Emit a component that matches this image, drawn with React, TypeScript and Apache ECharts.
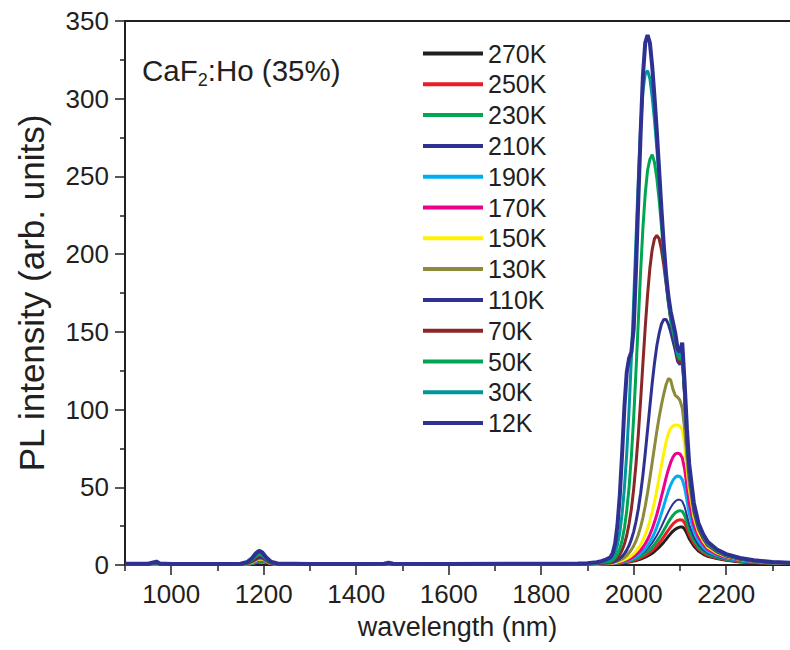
import React, { useEffect, useRef } from "react";
import * as echarts from "echarts";

// ---------- data ----------
const wavelengthsLow = [900, 950, 968, 975, 1000, 1100, 1150, 1165, 1175, 1183, 1190, 1197, 1205, 1215, 1230, 1300, 1400, 1460, 1470, 1480, 1600, 1800, 1880];
const wavelengthsHigh = [1900, 1920, 1930, 1940, 1950, 1955, 1960, 1965, 1970, 1975, 1980, 1985, 1990, 1995, 2000, 2005, 2010, 2015, 2020, 2025, 2030, 2035, 2040, 2045, 2050, 2055, 2060, 2065, 2070, 2075, 2080, 2085, 2090, 2095, 2100, 2105, 2110, 2115, 2120, 2130, 2140, 2150, 2160, 2180, 2200, 2230, 2260, 2300, 2338];

const seriesNames = ["270K", "250K", "230K", "210K", "190K", "170K", "150K", "130K", "110K", "70K", "50K", "30K", "12K"];
const seriesColors = ["#231f20", "#ed1c24", "#00a651", "#2e3192", "#00aeef", "#ec008c", "#fff200", "#8c8b3c", "#2e3192", "#8b2626", "#00a651", "#00969b", "#2e3192"];
const seriesWidths = [3, 3, 3, 2, 3, 3, 3, 3, 3, 3, 3, 3, 4];

const low270 = [0.3, 0.3, 0.6, 0.4, 0.3, 0.3, 0.3, 0.4, 0.8, 1.3, 1.9, 2.1, 1.7, 0.8, 0.4, 0.3, 0.3, 0.4, 0.5, 0.4, 0.3, 0.3, 0.3];
const low250 = [0.3, 0.3, 0.7, 0.4, 0.3, 0.3, 0.3, 0.5, 0.9, 1.5, 2.1, 2.3, 1.8, 0.8, 0.4, 0.3, 0.3, 0.4, 0.6, 0.4, 0.3, 0.3, 0.3];
const low230 = [0.3, 0.3, 0.7, 0.4, 0.3, 0.3, 0.3, 0.5, 1.0, 1.7, 2.3, 2.5, 1.9, 0.9, 0.4, 0.3, 0.3, 0.4, 0.6, 0.4, 0.3, 0.3, 0.3];
const low210 = [0.4, 0.4, 0.8, 0.4, 0.3, 0.3, 0.4, 0.6, 1.1, 1.9, 2.6, 2.7, 2.0, 0.9, 0.4, 0.3, 0.3, 0.4, 0.6, 0.4, 0.3, 0.3, 0.3];
const low190 = [0.4, 0.4, 0.8, 0.5, 0.3, 0.3, 0.4, 0.6, 1.3, 2.2, 3.0, 3.0, 2.2, 1.0, 0.5, 0.3, 0.3, 0.4, 0.7, 0.4, 0.3, 0.3, 0.4];
const low170 = [0.4, 0.4, 0.9, 0.5, 0.3, 0.3, 0.4, 0.7, 1.5, 2.5, 3.4, 3.3, 2.4, 1.0, 0.5, 0.3, 0.3, 0.4, 0.7, 0.4, 0.3, 0.3, 0.4];
const low150 = [0.5, 0.5, 1.0, 0.5, 0.4, 0.4, 0.5, 0.8, 1.7, 2.9, 3.9, 3.7, 2.6, 1.1, 0.5, 0.4, 0.4, 0.5, 0.8, 0.5, 0.4, 0.4, 0.5];
const low130 = [0.5, 0.5, 1.1, 0.6, 0.4, 0.4, 0.5, 0.9, 2.0, 3.3, 4.4, 4.1, 2.8, 1.2, 0.6, 0.4, 0.4, 0.5, 0.8, 0.5, 0.4, 0.4, 0.5];
const low110 = [0.5, 0.5, 1.2, 0.6, 0.4, 0.4, 0.5, 1.0, 2.3, 3.8, 5.0, 4.6, 3.1, 1.3, 0.6, 0.4, 0.4, 0.5, 0.9, 0.5, 0.4, 0.5, 0.6];
const low70 = [0.6, 0.6, 1.4, 0.7, 0.5, 0.5, 0.6, 1.2, 2.8, 4.6, 6.0, 5.4, 3.5, 1.5, 0.7, 0.5, 0.5, 0.6, 1.0, 0.6, 0.5, 0.6, 0.7];
const low50 = [0.6, 0.6, 1.6, 0.8, 0.5, 0.5, 0.6, 1.4, 3.4, 5.6, 7.0, 6.2, 3.9, 1.7, 0.8, 0.5, 0.5, 0.6, 1.1, 0.6, 0.5, 0.6, 0.8];
const low30 = [0.7, 0.7, 1.8, 0.9, 0.6, 0.5, 0.7, 1.7, 4.0, 6.6, 8.2, 7.0, 4.4, 1.9, 0.9, 0.5, 0.5, 0.7, 1.2, 0.7, 0.5, 0.7, 0.9];
const low12 = [0.8, 0.8, 2.2, 1.0, 0.7, 0.6, 0.8, 2.0, 4.5, 7.5, 9.2, 8.0, 5.0, 2.2, 1.0, 0.6, 0.6, 0.8, 1.4, 0.8, 0.6, 0.8, 1.0];

const high270 = [0.3, 0.4, 0.4, 0.5, 0.7, 0.8, 0.9, 1.0, 1.1, 1.3, 1.5, 1.7, 1.9, 2.2, 2.5, 2.9, 3.3, 3.8, 4.4, 5.0, 5.8, 6.6, 7.6, 8.7, 10, 11.4, 13, 14.7, 16.5, 18.4, 20.2, 21.8, 23, 23.9, 24.4, 24.5, 23.2, 20.4, 17, 12.3, 9, 7, 5.6, 4.1, 3, 2, 1.5, 1.1, 0.8];
const high250 = [0.3, 0.4, 0.5, 0.6, 0.8, 0.9, 1.0, 1.1, 1.3, 1.5, 1.7, 2.0, 2.3, 2.6, 3.0, 3.5, 4.0, 4.6, 5.3, 6.1, 7.0, 8.1, 9.3, 10.7, 12.3, 14, 16, 18.1, 20.3, 22.5, 24.6, 26.4, 27.8, 28.7, 29.1, 29, 27.2, 23.6, 19.6, 14, 10.2, 7.9, 6.2, 4.5, 3.3, 2.2, 1.6, 1.1, 0.9];
const high230 = [0.3, 0.4, 0.5, 0.7, 0.9, 1.0, 1.1, 1.3, 1.5, 1.7, 2.0, 2.3, 2.7, 3.1, 3.6, 4.2, 4.8, 5.6, 6.5, 7.5, 8.7, 10, 11.5, 13.2, 15.2, 17.4, 19.8, 22.4, 25, 27.6, 30, 32, 33.6, 34.6, 35, 34.5, 32, 27.5, 22.5, 16, 11.5, 8.8, 6.9, 4.9, 3.6, 2.4, 1.7, 1.2, 0.9];
const high210 = [0.3, 0.5, 0.6, 0.8, 1.0, 1.1, 1.3, 1.5, 1.7, 2.0, 2.3, 2.7, 3.2, 3.7, 4.3, 5.0, 5.8, 6.8, 7.9, 9.2, 10.7, 12.4, 14.3, 16.5, 19, 21.8, 24.8, 28, 31.2, 34.2, 37, 39.3, 41, 42, 42, 41, 37.5, 32, 26, 18, 13, 9.8, 7.6, 5.3, 3.9, 2.6, 1.8, 1.3, 1.0];
const high190 = [0.4, 0.5, 0.7, 0.9, 0.9, 1.0, 1.2, 1.4, 1.6, 1.9, 2.2, 2.6, 3.1, 3.7, 4.4, 5.2, 6.2, 7.4, 8.8, 10.5, 12.5, 14.8, 17.5, 20.7, 24.4, 28.6, 33.2, 38, 43, 47.7, 51.6, 54.6, 56.5, 57.3, 57, 55, 50, 42, 33, 22, 15.5, 11.5, 8.8, 6.1, 4.4, 2.9, 2.0, 1.4, 1.0];
const high170 = [0.4, 0.6, 0.8, 0.9, 1.0, 1.2, 1.4, 1.6, 1.9, 2.3, 2.7, 3.2, 3.8, 4.6, 5.5, 6.6, 7.9, 9.5, 11.4, 13.7, 16.4, 19.6, 23.3, 27.6, 32.5, 38, 44, 50, 56, 61.5, 66, 69.5, 71.5, 72, 71.5, 69, 62, 51, 40, 26, 18, 13.5, 10, 6.9, 4.9, 3.2, 2.2, 1.5, 1.1];
const high150 = [0.5, 0.7, 0.9, 1.0, 1.1, 1.3, 1.6, 1.9, 2.3, 2.8, 3.4, 4.1, 5.0, 6.0, 7.3, 8.9, 10.8, 13.2, 16, 19.5, 23.5, 28.5, 34, 40.5, 48, 56, 64, 72, 79, 84.5, 88, 89.5, 90, 90, 89.5, 87, 78, 63, 49, 31, 21, 15.5, 11.5, 7.8, 5.4, 3.5, 2.4, 1.6, 1.2];
const high130 = [0.5, 0.8, 1.0, 1.1, 1.3, 1.6, 2.0, 2.5, 3.1, 3.9, 4.9, 6.2, 7.8, 9.8, 12.3, 15.5, 19.5, 24.5, 30.5, 38, 46.5, 56, 66, 76, 86, 95, 103, 110, 116, 120, 119, 113, 109, 108, 106, 101, 88, 70, 53, 33.5, 23, 17, 12.5, 8.4, 5.8, 3.7, 2.5, 1.6, 1.2];
const high110 = [0.6, 0.9, 1.1, 1.3, 1.5, 1.9, 2.5, 3.2, 4.2, 5.5, 7.3, 9.6, 12.6, 16.5, 21.5, 28, 36, 46, 58, 72, 87, 102, 117, 130, 141, 149, 155, 158, 158, 155, 150, 144, 138, 131, 129, 133, 109, 81, 59, 36, 24, 17.5, 12.8, 8.6, 5.9, 3.8, 2.5, 1.7, 1.2];
const high70 = [0.7, 1.0, 1.3, 1.5, 1.8, 2.5, 3.4, 4.8, 6.8, 9.6, 13.5, 19, 26.5, 36, 49, 65, 84, 106, 130, 153, 174, 191, 203, 210, 212, 210, 203, 193, 181, 169, 158, 150, 143, 133, 130, 134, 110, 82, 60, 37, 24.5, 18, 13, 8.8, 6, 3.9, 2.6, 1.7, 1.3];
const high50 = [0.8, 1.2, 1.6, 1.9, 2.2, 3.2, 4.8, 7, 10.5, 16, 24, 35, 50, 70, 95, 125, 157, 189, 217, 239, 254, 261, 264, 259, 249, 235, 218, 200, 183, 169, 158, 150, 144, 135, 132, 136, 112, 83, 61, 38, 25, 18.5, 13.5, 9, 6.2, 4, 2.7, 1.8, 1.3];
const high30 = [1.0, 1.5, 2.0, 2.5, 3, 5, 8, 13, 21, 33, 50, 72, 100, 133, 170, 210, 248, 282, 305, 316, 318, 313, 301, 286, 268, 248, 226, 204, 185, 171, 160, 152, 146, 136, 134, 139, 114, 85, 63, 39, 26, 19, 14, 9.5, 6.5, 4.2, 2.8, 1.9, 1.4];
const high12 = [1.2, 1.8, 2.5, 3.5, 5, 8, 14, 26, 45, 72, 102, 124, 133, 137, 152, 190, 235, 278, 315, 336, 341, 336, 321, 301, 279, 254, 229, 206, 187, 173, 163, 156, 149, 139, 137, 143, 118, 88, 65, 40, 27, 20, 15, 10, 7, 4.5, 3, 2, 1.5];

const seriesLow = [low270, low250, low230, low210, low190, low170, low150, low130, low110, low70, low50, low30, low12];
const seriesHigh = [high270, high250, high230, high210, high190, high170, high150, high130, high110, high70, high50, high30, high12];

const xMajorTicks = [1000, 1200, 1400, 1600, 1800, 2000, 2200];
const xMinorTicks = [900, 1100, 1300, 1500, 1700, 1900, 2100, 2300];

const FONT = '"Liberation Sans", Arial, Helvetica, sans-serif';
const TXT = "#231f20";

export default function App() {
  const ref = useRef<HTMLDivElement>(null);
  useEffect(() => {
    document.body.style.margin = "0";
    const chart = echarts.init(ref.current!, null, { renderer: "svg" });
    const wavelengths = [...wavelengthsLow, ...wavelengthsHigh];
    const series = seriesNames.map((name, i) => {
      const vals = [...seriesLow[i], ...seriesHigh[i]];
      return {
        name,
        type: "line",
        symbol: "none",
        showSymbol: false,
        silent: true,
        data: wavelengths.map((w, j) => [w, vals[j]]),
        lineStyle: { color: seriesColors[i], width: seriesWidths[i] },
        itemStyle: { color: seriesColors[i] },
        z: 2 + i,
      };
    });
    const axisLine = { show: true, onZero: false, lineStyle: { color: TXT, width: 2 } };
    chart.setOption({
      animation: false,
      backgroundColor: "#ffffff",
      title: {
        text: "CaF{sub|2}:Ho (35%)",
        left: 142,
        top: 51,
        padding: 0,
        textStyle: {
          fontSize: 29.5,
          fontWeight: "normal",
          color: TXT,
          fontFamily: FONT,
          lineHeight: 38,
          rich: {
            sub: { fontSize: 18, lineHeight: 18, verticalAlign: "bottom", color: TXT, fontFamily: FONT },
          },
        },
      },
      legend: {
        orient: "vertical",
        left: 423,
        top: 41,
        padding: 0,
        itemWidth: 60,
        itemHeight: 4,
        itemGap: 5.8,
        icon: "rect",
        selectedMode: false,
        itemStyle: { borderWidth: 0 },
        textStyle: { fontSize: 25, color: TXT, fontFamily: FONT, lineHeight: 25 },
        data: seriesNames,
      },
      grid: { left: 125, top: 21, width: 665, height: 544 },
      xAxis: [
        {
          type: "value",
          min: 900,
          max: 2338,
          position: "bottom",
          axisLine,
          axisTick: { show: true, customValues: xMajorTicks, length: 10, lineStyle: { color: TXT, width: 1.5 } },
          axisLabel: {
            customValues: xMajorTicks,
            margin: 16,
            fontSize: 26,
            color: TXT,
            fontFamily: FONT,
            formatter: (v: number) => String(v),
          },
          splitLine: { show: false },
          name: "wavelength (nm)",
          nameLocation: "middle",
          nameGap: 48,
          nameTextStyle: { fontSize: 27, color: TXT, fontFamily: FONT },
        },
        {
          type: "value",
          min: 900,
          max: 2338,
          position: "bottom",
          axisLine: { show: false, onZero: false },
          axisTick: { show: true, customValues: xMinorTicks, length: 6, lineStyle: { color: TXT, width: 1.5 } },
          axisLabel: { show: false },
          splitLine: { show: false },
        },
        {
          type: "value",
          min: 900,
          max: 2338,
          position: "top",
          axisLine,
          axisTick: { show: false },
          axisLabel: { show: false },
          splitLine: { show: false },
        },
      ],
      yAxis: {
        type: "value",
        min: 0,
        max: 350,
        interval: 50,
        axisLine,
        axisTick: { show: true, length: 10, lineStyle: { color: TXT, width: 1.5 } },
        minorTick: { show: true, splitNumber: 2, length: 5, lineStyle: { color: TXT, width: 1.5 } },
        axisLabel: { margin: 16, fontSize: 26, color: TXT, fontFamily: FONT, formatter: (v: number) => String(v) },
        splitLine: { show: false },
        minorSplitLine: { show: false },
        name: "PL intensity (arb. units)",
        nameLocation: "middle",
        nameGap: 76,
        nameTextStyle: { fontSize: 35, color: TXT, fontFamily: FONT },
      },
      series,
    });
    return () => chart.dispose();
  }, []);
  return <div ref={ref} style={{ position: "fixed", left: 0, top: 0, width: 790, height: 650 }} />;
}
